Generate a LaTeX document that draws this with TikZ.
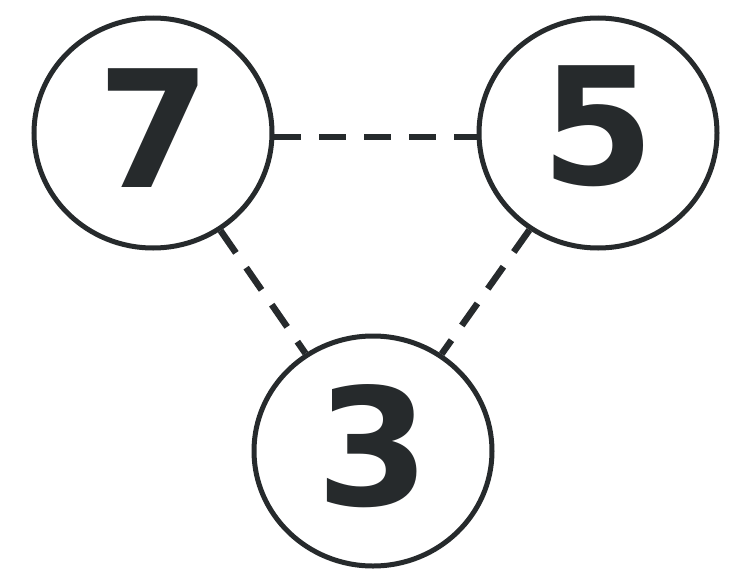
\documentclass[tikz,border=0pt]{standalone}
\usepackage{fontspec}
\newfontfamily\digitfont{DejaVu Sans}
\usetikzlibrary{shapes.geometric}
\definecolor{ink}{HTML}{262A2C}
\tikzset{
  ring/.style={ellipse, draw=ink, line width=5pt, minimum width=238pt, minimum height=230pt, inner sep=0pt},
  digit/.style={text=ink, inner sep=0pt, font=\digitfont\bfseries\fontsize{163}{163}\selectfont},
  conn/.style={draw=ink, line width=6.5pt, dash pattern=on 27pt off 18pt}
}
\begin{document}
\begin{tikzpicture}[x=1pt,y=-1pt]
\useasboundingbox (0,0) rectangle (731,570);
\fill[white] (0,0) rectangle (731,570);
\node[ring] (n7) at (153,133) {};
\node[ring] (n5) at (598,133) {};
\node[ring] (n3) at (373,451) {};
\node[digit] (t7) at (154,128) {7};
\node[digit] (t5) at (598,126) {5};
\node[digit] (t3) at (373,446) {3};
\draw[conn] (n7.-2) -- (n5.182);
\draw[conn] (n7) -- (n3);
\draw[conn] (n5) -- (n3);
\end{tikzpicture}
\end{document}
